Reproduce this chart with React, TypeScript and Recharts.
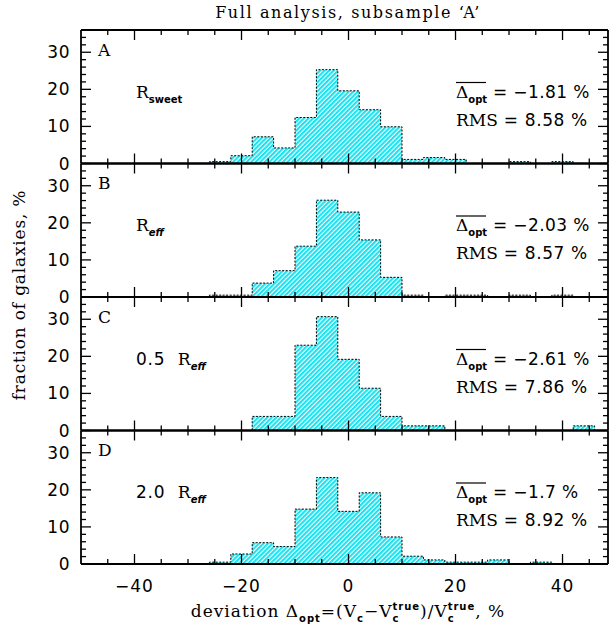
import React from 'react';
import { ComposedChart, Area, XAxis, YAxis } from 'recharts';

const BIN = 4;
const binCenters = [-48, -44, -40, -36, -32, -28, -24, -20, -16, -12, -8, -4, 0, 4, 8, 12, 16, 20, 24, 28, 32, 36, 40, 44];
const valuesA = [0, 0, 0, 0, 0, 0, 0.5, 2.1, 7.2, 4.2, 12.4, 25.3, 19.6, 14.5, 9.9, 1.1, 1.6, 1.1, 0, 0, 0.5, 0, 0.5, 0];
const valuesB = [0, 0, 0, 0, 0, 0, 0.5, 0.5, 3.75, 7.1, 13.7, 26.1, 22.9, 15.4, 5.3, 0.5, 0, 0.5, 0.5, 0, 0.5, 0, 0.5, 0];
const valuesC = [0, 0, 0, 0, 0, 0, 0, 0, 3.8, 3.8, 23.0, 30.7, 19.2, 11.4, 3.8, 1.25, 1.25, 0, 0, 0, 0, 0, 0, 1.25];
const valuesD = [0, 0, 0, 0, 0, 0, 0.5, 2.7, 5.75, 4.7, 14.8, 23.3, 14.2, 19.2, 7.3, 2.1, 1.1, 0.5, 0.5, 1.1, 0, 0.5, 0, 0];

const panelLetters = ['A', 'B', 'C', 'D'];
const panelPrefix = ['', '', '0.5 ', '2.0 '];
const panelSub = ['sweet', 'eff', 'eff', 'eff'];
const meanValues = ['−1.81', '−2.03', '−2.61', '−1.7'];
const rmsValues = ['8.58', '8.57', '7.86', '8.92'];
const allValues = [valuesA, valuesB, valuesC, valuesD];

const xTicks = [-45, -40, -35, -30, -25, -20, -15, -10, -5, 0, 5, 10, 15, 20, 25, 30, 35, 40, 45];
const yTicks = [0, 2, 4, 6, 8, 10, 12, 14, 16, 18, 20, 22, 24, 26, 28, 30, 32, 34];
const X_DOMAIN = [-50, 48.5];
const Y_DOMAIN = [0, 36];

const W = 610;
const HT = 632;
const LEFT = 81;
const RIGHT = 2;
const PH = 133.5;
const TOPS = [30, 163.5, 297, 430.5];

const SANS = 'DejaVu Sans';
const SERIF = 'DejaVu Serif';

const fmt = (v: number) => (v < 0 ? '−' + Math.abs(v) : String(v));

function xTick(props: any, side: 'bottom' | 'top', labels: boolean) {
  const { x, y, payload } = props;
  const v = payload.value;
  const major = v % 20 === 0;
  const len = major ? 10 : 5;
  const dir = side === 'bottom' ? -1 : 1;
  return (
    <g>
      <line x1={x} y1={y} x2={x} y2={y + dir * len} stroke="#000" strokeWidth={1.3} />
      {labels && major ? (
        <text x={x} y={y + 28} textAnchor="middle" fontFamily={SANS} fontSize={17} letterSpacing={1} fill="#000">
          {fmt(v)}
        </text>
      ) : null}
    </g>
  );
}

function yTick(props: any, side: 'left' | 'right') {
  const { x, y, payload } = props;
  const v = payload.value;
  const major = v % 10 === 0;
  const len = major ? 10 : 5;
  const dir = side === 'left' ? 1 : -1;
  return (
    <g>
      <line x1={x} y1={y} x2={x + dir * len} y2={y} stroke="#000" strokeWidth={1.3} />
      {side === 'left' && major ? (
        <text x={x - 11} y={y + 6} textAnchor="end" fontFamily={SANS} fontSize={17} letterSpacing={0.5} fill="#000">
          {v}
        </text>
      ) : null}
    </g>
  );
}

function Panel({ idx }: { idx: number }) {
  const values = allValues[idx];
  const data = binCenters.map((c, i) => ({ x: c - BIN / 2, v: values[i] }));
  data.push({ x: binCenters[binCenters.length - 1] + BIN / 2, v: 0 });
  const top = TOPS[idx];
  const pid = 'hatch' + idx;
  const last = idx === 3;
  const axisLine = { stroke: '#000', strokeWidth: 1.8 };
  return (
    <div style={{ position: 'absolute', left: 0, top: 0 }}>
      <ComposedChart
        width={W}
        height={HT}
        data={data}
        margin={{ top: top - 1, left: LEFT - 1, right: RIGHT - 1, bottom: HT - top - PH - 1 }}
      >
        <defs>
          <pattern id={pid} patternUnits="userSpaceOnUse" width="3.2" height="3.2" patternTransform="rotate(45)">
            <rect x="0" y="0" width="3.2" height="3.2" fill="#ffffff" />
            <rect x="0" y="0" width="2.1" height="3.2" fill="#19e3f0" />
          </pattern>
        </defs>
        <XAxis
          xAxisId="b"
          dataKey="x"
          type="number"
          domain={X_DOMAIN}
          ticks={xTicks}
          interval={0}
          allowDataOverflow
          height={1}
          tickSize={0}
          tickMargin={0}
          axisLine={axisLine}
          tickLine={false}
          tick={(p: any) => xTick(p, 'bottom', last)}
        />
        <XAxis
          xAxisId="t"
          orientation="top"
          dataKey="x"
          type="number"
          domain={X_DOMAIN}
          ticks={xTicks}
          interval={0}
          allowDataOverflow
          height={1}
          tickSize={0}
          tickMargin={0}
          axisLine={axisLine}
          tickLine={false}
          tick={(p: any) => xTick(p, 'top', false)}
        />
        <YAxis
          yAxisId="l"
          type="number"
          domain={Y_DOMAIN}
          ticks={yTicks}
          interval={0}
          allowDataOverflow
          width={1}
          tickSize={0}
          tickMargin={0}
          axisLine={axisLine}
          tickLine={false}
          tick={(p: any) => yTick(p, 'left')}
        />
        <YAxis
          yAxisId="r"
          orientation="right"
          type="number"
          domain={Y_DOMAIN}
          ticks={yTicks}
          interval={0}
          allowDataOverflow
          width={1}
          tickSize={0}
          tickMargin={0}
          axisLine={axisLine}
          tickLine={false}
          tick={(p: any) => yTick(p, 'right')}
        />
        <Area
          xAxisId="b"
          yAxisId="l"
          type="stepAfter"
          dataKey="v"
          fill={`url(#${pid})`}
          fillOpacity={1}
          stroke="#000"
          strokeWidth={1}
          strokeDasharray="2 1.5"
          dot={false}
          activeDot={false}
          isAnimationActive={false}
        />
      </ComposedChart>
    </div>
  );
}

function PanelText({ idx }: { idx: number }) {
  const zero = TOPS[idx] + PH;
  const l1 = zero - 66;
  const l2 = zero - 38;
  return (
    <g fill="#000">
      <text x={98} y={zero - 108} fontFamily={SERIF} fontSize={17}>
        {panelLetters[idx]}
      </text>
      <text x={136} y={l1} fontFamily={SERIF} fontSize={17} style={{ whiteSpace: 'pre' }}>
        {panelPrefix[idx] ? <tspan fontFamily={SANS} letterSpacing={0.8}>{panelPrefix[idx] + ' '}</tspan> : null}
        R
        <tspan fontSize={10} fontWeight="bold" fontStyle={panelSub[idx] === 'eff' ? 'italic' : 'normal'} fontFamily={SANS} dy={5}>
          {panelSub[idx]}
        </tspan>
      </text>
      <line x1={456} x2={486} y1={zero - 81} y2={zero - 81} stroke="#000" strokeWidth={1.2} />
      <text x={456} y={l1} fontFamily={SERIF} fontSize={17}>
        Δ
        <tspan fontSize={10} fontWeight="bold" fontFamily={SANS} dy={5}>opt</tspan>
        <tspan dy={-5} fontFamily={SANS} letterSpacing={0.4}>{' = ' + meanValues[idx] + ' %'}</tspan>
      </text>
      <text x={456} y={l2} fontFamily={SERIF} fontSize={17}>
        RMS
        <tspan fontFamily={SANS} letterSpacing={0.6}>{' = ' + rmsValues[idx] + ' %'}</tspan>
      </text>
    </g>
  );
}

export default function App() {
  return (
    <div style={{ position: 'absolute', left: 0, top: 0, width: W, height: HT, background: '#fff' }}>
      {[0, 1, 2, 3].map((i) => (
        <Panel key={i} idx={i} />
      ))}
      <svg width={W} height={HT} style={{ position: 'absolute', left: 0, top: 0, pointerEvents: 'none' }}>
        <text x={348} y={18} textAnchor="middle" fontFamily={SERIF} fontSize={16} letterSpacing={1.6} fill="#000">
          Full analysis, subsample ‘A’
        </text>
        <text
          x={0}
          y={0}
          transform="translate(25,295) rotate(-90)"
          textAnchor="middle"
          fontFamily={SERIF}
          fontSize={17}
          letterSpacing={0.8}
          fill="#000"
        >
          fraction of galaxies, %
        </text>
        <text x={348} y={617} textAnchor="middle" fontFamily={SERIF} fontSize={17} letterSpacing={1} fill="#000">
          deviation Δ
          <tspan fontSize={10} fontWeight="bold" fontFamily={SANS} dy={5}>opt</tspan>
          <tspan dy={-5}>=(V</tspan>
          <tspan fontSize={10} fontWeight="bold" fontFamily={SANS} dy={5}>c</tspan>
          <tspan dy={-5}>−V</tspan>
          <tspan fontSize={10} fontWeight="bold" fontFamily={SANS} dy={5}>c</tspan>
          <tspan fontSize={10} fontWeight="bold" fontFamily={SANS} dx={-7} dy={-12}>true</tspan>
          <tspan dy={7}>)/V</tspan>
          <tspan fontSize={10} fontWeight="bold" fontFamily={SANS} dy={5}>c</tspan>
          <tspan fontSize={10} fontWeight="bold" fontFamily={SANS} dx={-7} dy={-12}>true</tspan>
          <tspan dy={7}>, %</tspan>
        </text>
        {[0, 1, 2, 3].map((i) => (
          <PanelText key={i} idx={i} />
        ))}
      </svg>
    </div>
  );
}
